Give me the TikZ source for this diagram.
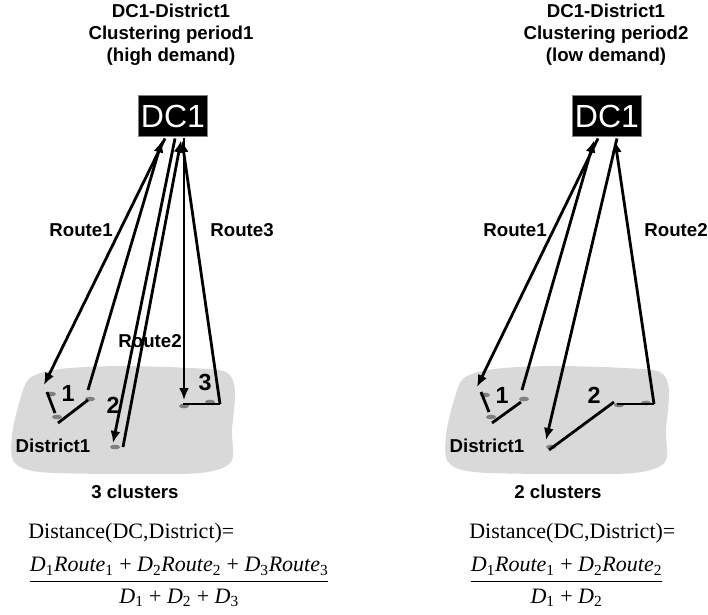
\documentclass[tikz,border=0pt]{standalone}
\usepackage{fontspec}
\setmainfont{Liberation Serif}
\setsansfont{Liberation Sans}
\usetikzlibrary{arrows.meta,shapes.geometric,calc}
\definecolor{cd9d9d9}{RGB}{217,217,217}
\definecolor{c808080}{RGB}{128,128,128}
\definecolor{c7f7f7f}{RGB}{127,127,127}
\tikzset{every path/.style={>={Latex[length=9pt,width=7.5pt]},color=black}}
\newcommand{\tsub}[2]{\textit{#1}\textsubscript{#2}}

\begin{document}
\begin{tikzpicture}[x=0.75pt,y=-0.75pt,
  lbl/.style={inner sep=0pt,font=\sffamily\bfseries\fontsize{14}{16.5}\selectfont},
  num/.style={inner sep=0pt,font=\sffamily\bfseries\fontsize{17.5}{17.5}\selectfont},
  frm/.style={inner sep=0pt,font=\fontsize{16.5}{20}\selectfont},
  route/.style={line width=2.1pt}]
\useasboundingbox (0,0) rectangle (708,615);

% district areas
\path[fill=cd9d9d9] plot[smooth cycle] coordinates {(30,378) (60,369) (120,366) (190,368) (226,372)
  (235,390) (232,430) (231,462) (200,473) (120,474) (40,472) (14,462) (12,435) (20,400)};
\begin{scope}[shift={(434,0)}]
\path[fill=cd9d9d9] plot[smooth cycle] coordinates {(30,378) (60,369) (120,366) (190,368) (226,372)
  (235,390) (232,430) (231,462) (200,473) (120,474) (40,472) (14,462) (12,435) (20,400)};
\end{scope}

\begin{scope}[every node/.style={ellipse,fill=c808080,minimum width=7.5pt,minimum height=3.5pt,inner sep=0pt}]
\node (pLa) at (51,394) {};
\node (pLb) at (57,417) {};
\node (pLc) at (90,399) {};
\node (pLd) at (115,447) {};
\node (pLe) at (184,406) {};
\node (pLf) at (210,402) {};
\node (pRa) at (485,395) {};
\node (pRb) at (491,417) {};
\node (pRc) at (524,399) {};
\node (pRd) at (551,447) {};
\node (pRe) at (619,405) {};
\node (pRf) at (646,403) {};
\end{scope}

\begin{scope}[every node/.style={fill=black,draw=c7f7f7f,line width=1.2pt,minimum width=52pt,
minimum height=31pt,inner sep=0pt,text=white,font=\sffamily\fontsize{24}{24}\selectfont}]
\node (dcL) at (173,116) {DC1};
\node (dcR) at (607,116) {DC1};
\end{scope}

\node[lbl,align=center] (titleL) at (171,35) {DC1-District1\\Clustering period1\\(high demand)};
\node[lbl,align=center] (titleR) at (606,35) {DC1-District1\\Clustering period2\\(low demand)};

\node[lbl] (rt1L) at (81,230) {Route1};
\node[lbl] (rt2L) at (150,341) {Route2};
\node[lbl] (rt3L) at (242,230) {Route3};
\node[lbl] (rt1R) at (515,230) {Route1};
\node[lbl] (rt2R) at (676,230) {Route2};

\node[num] (n1L) at (68,393) {1};
\node[num] (n2L) at (113,405) {2};
\node[num] (n3L) at (205,382) {3};
\node[num] (n1R) at (502,395) {1};
\node[num] (n2R) at (594,395) {2};

\node[lbl] (distrL) at (53,446) {District1};
\node[lbl] (distrR) at (487,446) {District1};
\node[lbl] (clL) at (135,492) {3 clusters};
\node[lbl] (clR) at (558,492) {2 clusters};

% period1
\draw[route,->] ($(dcL.south)+(-8,1)$) -- ($(pLa)+(-7,-9)$);
\draw[route] ($(pLa)+(-4,-2)$) -- ($(pLb)+(-2,-4)$);
\draw[route] ($(pLb)+(1,6)$) -- ($(pLc)+(-2,1)$);
\draw[route,->] ($(pLc)+(-2,-9)$) -- ($(dcL.south)+(-11,3)$);
\draw[route,->] ($(dcL.south)+(2,1)$) -- ($(pLd)+(-2,-4)$);
\draw[route,->] ($(pLd)+(8,0)$) -- ($(dcL.south)+(8,3)$);
\draw[route,->] ($(dcL.south)+(11,1)$) -- ($(pLe)+(0,-6)$);
\draw[route] ($(pLe)+(-1,-2)$) -- ($(pLf)+(10,2)$);
\draw[route,->] ($(pLf)+(10,2)$) -- ($(dcL.south)+(9,3)$);

% period2
\draw[route,->] ($(dcR.south)+(-9,1)$) -- ($(pRa)+(-8,-8)$);
\draw[route] ($(pRa)+(-4,-3)$) -- ($(pRb)+(-2,-5)$);
\draw[route] ($(pRb)+(1,6)$) -- ($(pRc)+(-3,3)$);
\draw[route,->] ($(pRc)+(-2,-9)$) -- ($(dcR.south)+(-13,3)$);
\draw[route,->] ($(dcR.south)+(10,1)$) -- ($(pRd)+(-5,-7)$);
\draw[route] ($(pRd)+(-2,3)$) -- ($(pRe)+(-5,-3)$);
\draw[route] ($(pRe)+(-2,-1)$) -- ($(pRf)+(8,1)$);
\draw[route,->] ($(pRf)+(8,1)$) -- ($(dcR.south)+(8,3)$);

\node[frm,anchor=base west] (distL) at (28,538) {Distance(DC,District)=};
\node[frm,anchor=west] (fracL) at (28,582) {$\displaystyle\frac{\mbox{\tsub{D}{1}\tsub{Route}{1} + \tsub{D}{2}\tsub{Route}{2} + \tsub{D}{3}\tsub{Route}{3}}}{\mbox{\tsub{D}{1} + \tsub{D}{2} + \tsub{D}{3}}}$};
\node[frm,anchor=base west] (distR) at (469,538) {Distance(DC,District)=};
\node[frm,anchor=west] (fracR) at (469,582) {$\displaystyle\frac{\mbox{\tsub{D}{1}\tsub{Route}{1} + \tsub{D}{2}\tsub{Route}{2}}}{\mbox{\tsub{D}{1} + \tsub{D}{2}}}$};

\end{tikzpicture}
\end{document}
